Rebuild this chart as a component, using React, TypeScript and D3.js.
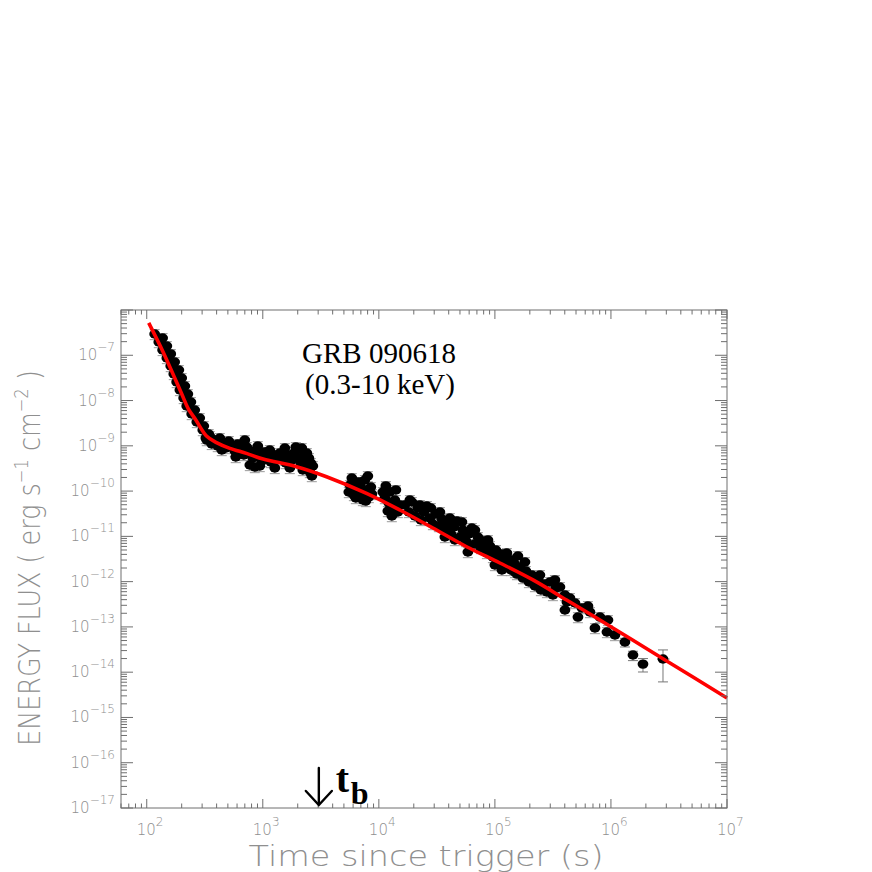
import React from "react";
import * as d3 from "d3";

// ---- data (time in s, energy flux in erg s^-1 cm^-2) ----
const steepDecay: [number, number][] = [
  [117, 2.95e-7], [137, 2.41e-7], [127, 1.96e-7], [149, 1.6e-7], [137, 1.31e-7],
  [161, 1.07e-7], [149, 8.7e-8], [174, 7.1e-8], [161, 5.79e-8], [189, 4.73e-8],
  [171, 3.86e-8], [200, 3.15e-8], [181, 2.57e-8], [213, 2.1e-8], [193, 1.71e-8],
  [226, 1.39e-8], [208, 1.14e-8], [240, 9.28e-9], [221, 7.57e-9], [259, 6.18e-9],
  [244, 5.04e-9], [286, 4.11e-9], [270, 3.36e-9], [310, 2.74e-9], [304, 2.23e-9],
  [342, 1.82e-9], [323, 1.49e-9],
];
const plateau: [number, number][] = [
  [329, 1.34e-9], [349, 1.65e-9], [363, 1.1e-9], [386, 1.34e-9], [409, 9.9e-10],
  [426, 1.49e-9], [452, 1.15e-9], [480, 8.94e-10], [509, 1.28e-9], [541, 9.9e-10],
  [574, 7.68e-10], [609, 1.1e-9], [646, 8.5e-10], [686, 6.27e-10], [728, 9.41e-10],
  [773, 7.3e-10], [820, 5.38e-10], [871, 8.08e-10], [924, 6.27e-10], [980, 4.62e-10],
  [1040, 7.3e-10], [1104, 5.66e-10], [1172, 4.39e-10], [1244, 6.27e-10], [1320, 4.86e-10],
  [1401, 6.94e-10], [1487, 5.38e-10], [1578, 4.17e-10], [1675, 6.27e-10], [1778, 4.86e-10],
  [1887, 7.3e-10], [2003, 5.38e-10], [2126, 4.17e-10], [2256, 5.95e-10], [2348, 4.62e-10],
  [2443, 3.4e-10], [2542, 2.64e-10], [2645, 2.15e-10], [2212, 2.92e-10], [2043, 8.5e-10],
  [2395, 6.94e-10], [2593, 4.17e-10], [773, 3.77e-10], [853, 3.4e-10],
  [443, 8.08e-10], [585, 5.66e-10], [942, 3.58e-10], [1269, 3.24e-10], [1709, 3.24e-10],
  [1926, 9.41e-10], [2168, 8.94e-10], [2493, 5.38e-10], [2698, 3.58e-10], [1549, 8.94e-10],
  [1148, 8.08e-10], [700, 1.34e-9], [906, 9.9e-10],
];
const secondOrbit: [number, number][] = [
  [5623, 1.36e-10], [5851, 1.94e-10], [6211, 1.06e-10], [6462, 1.59e-10], [6859, 1.3e-10],
  [6592, 8.19e-11], [7137, 9.54e-11], [7575, 1.76e-10], [8040, 2.15e-10], [7727, 1.06e-10],
  [8201, 7.4e-11], [8706, 8.62e-11], [6089, 8.19e-11], [7280, 6.35e-11],
  [5510, 9.54e-11], [6336, 7.03e-11], [6995, 1.59e-10], [8531, 1.23e-10], [7727, 6.04e-11],
];
const thirdOrbit: [number, number][] = [
  [11490, 1.3e-10], [12439, 9.54e-11], [14015, 1.06e-10], [11264, 7.03e-11], [12195, 5.45e-11],
  [13204, 4.23e-11], [11955, 3.63e-11], [14582, 3.45e-11], [13739, 6.35e-11],
  [10820, 9.54e-11], [15170, 4.93e-11], [12940, 2.81e-11],
];
const lateDecay: [number, number][] = [
  [16750, 4.93e-11], [18138, 3.45e-11], [19256, 5.74e-11], [20438, 2.81e-11], [21693, 4.23e-11],
  [23025, 2.3e-11], [24434, 3.45e-11], [25934, 4.68e-11], [27527, 2.54e-11], [28076, 4.23e-11],
  [29212, 1.87e-11], [31004, 3.12e-11], [32898, 1.69e-11], [34917, 2.42e-11], [37068, 1.38e-11],
  [39336, 1.97e-11], [41758, 1.13e-11], [44322, 1.61e-11], [47030, 2.18e-11], [49918, 9.68e-12],
  [52975, 1.38e-11], [56234, 7.89e-12], [58505, 4.51e-12], [59689, 1.13e-11], [63348, 1.53e-11],
  [67237, 6.78e-12], [71358, 9.68e-12], [75754, 5.53e-12], [80393, 7.89e-12], [85310, 4.29e-12],
  [90553, 6.12e-12], [96117, 3.5e-12], [102000, 4.99e-12], [108270, 2.85e-12], [114900, 4.07e-12],
  [114900, 1.81e-12], [121960, 2.21e-12], [129440, 3.16e-12], [137390, 1.81e-12], [145820, 2.58e-12],
  [154760, 1.47e-12], [164270, 2.1e-12], [174350, 1.2e-12], [185040, 1.72e-12], [196410, 9.81e-13],
  [208450, 1.4e-12], [221200, 8.0e-13], [234800, 1.14e-12], [249200, 6.53e-13], [264500, 8.86e-13],
  [280760, 5.9e-13], [297940, 9.81e-13], [316230, 5.06e-13], [335700, 7.23e-13], [363400, 7.61e-13],
  [117220, 3.32e-12], [126900, 4.29e-12], [140150, 3.0e-12], [157870, 3.68e-12], [148750, 1.63e-12],
  [18500, 6.35e-11], [22550, 4.93e-11], [33570, 3.45e-11], [40930, 2.54e-11], [51990, 2.07e-11],
  [67237, 1.38e-11], [87100, 8.3e-12], [60850, 6.44e-12], [45190, 8.3e-12], [37068, 9.68e-12],
  [100000, 2.33e-12], [181500, 2.71e-12], [244300, 1.4e-12], [328900, 1.09e-12],
];
const tail: [number, number][] = [
  [401200, 5.06e-13], [417500, 3.55e-13], [401200, 2.36e-13], [443200, 4.35e-13], [519400, 1.65e-13],
  [562300, 2.61e-13], [659200, 2.13e-13], [803900, 1.65e-13], [942200, 1.42e-13], [728000, 9.45e-14],
  [923500, 7.71e-14], [1083000, 6.62e-14], [489800, 3.37e-13], [633400, 2.89e-13],
];
// sparse last points with explicit error bars: [t, F, tLo, tHi, fLo, fHi]
const sparsePoints: [number, number, number, number, number, number][] = [
  [1320000, 4.64e-14, 1250000, 1400000, 3.6e-14, 5.6e-14],
  [1548000, 2.39e-14, 1450000, 1650000, 1.8e-14, 2.9e-14],
  [1888000, 1.51e-14, 1750000, 2050000, 1.01e-14, 2.0e-14],
  [2808000, 1.95e-14, 2500000, 3200000, 6.1e-15, 3.1e-14],
];
const typicalRelErr = 0.25;

// fitted model (red curve)
const modelCurve: [number, number][] = [
  [104, 5.2e-7], [138, 1.2e-7], [199, 1.45e-8], [227, 6.74e-9], [265, 3.72e-9],
  [327, 1.65e-9], [399, 1.18e-9], [520, 8.8e-10], [723, 6.8e-10], [1007, 5.1e-10],
  [1954, 3.46e-10], [3540, 2.08e-10], [7830, 8.9e-11], [15170, 3.82e-11], [29240, 1.53e-11],
  [57020, 5.9e-12], [110400, 2.58e-12], [212800, 1.09e-12], [415000, 3.93e-13],
  [803500, 1.42e-13], [1549000, 5.05e-14], [3020000, 1.77e-14], [10000000, 2.7e-15],
];

const xDecades = [2, 3, 4, 5, 6, 7];
const yDecades = [-17, -16, -15, -14, -13, -12, -11, -10, -9, -8, -7];
const breakTime = 3040;
const titleLines = ["GRB 090618", "(0.3-10 keV)"];

const GRAY = "#8f8f8f";
const FONT = "'DejaVu Sans', sans-serif";

export default function App() {
  const L = 121, R = 727, T = 310, B = 808;
  const x = d3.scaleLog().domain([60, 1e7]).range([L, R]);
  const y = d3.scaleLog().domain([1e-17, 1e-6]).range([B, T]);

  const allPts = [...steepDecay, ...plateau, ...secondOrbit, ...thirdOrbit, ...lateDecay, ...tail];

  const line = d3
    .line<[number, number]>()
    .x((d) => x(d[0]))
    .y((d) => y(d[1]))
    .curve(d3.curveCatmullRom.alpha(0.5));

  const xTicks: { v: number; major: boolean }[] = [];
  for (let d = 1; d <= 7; d++) {
    for (let k = 1; k <= 9; k++) {
      const v = k * Math.pow(10, d);
      if (v >= 60 && v <= 1e7) xTicks.push({ v, major: k === 1 });
    }
  }
  const yTicks: { v: number; major: boolean }[] = [];
  for (let d = -17; d <= -6; d++) {
    for (let k = 1; k <= 9; k++) {
      const v = k * Math.pow(10, d);
      if (v >= 1e-17 * 0.999 && v <= 1e-6 * 1.001) yTicks.push({ v, major: k === 1 });
    }
  }

  const xb = x(breakTime);

  return (
    <svg width={872} height={872} style={{ position: "absolute", left: 0, top: 0, background: "#fff" }}>
      <rect x={0} y={0} width={872} height={872} fill="#fff" />
      {/* error bars */}
      <g stroke="#9a9a9a" strokeWidth={1}>
        {allPts.map((p, i) => {
          const cx = x(p[0]);
          const lo = y(p[1] * (1 - typicalRelErr));
          const hi = y(p[1] * (1 + typicalRelErr));
          return (
            <g key={"e" + i}>
              <line x1={cx} x2={cx} y1={lo} y2={hi} />
              <line x1={cx - 5} x2={cx + 5} y1={lo} y2={lo} />
              <line x1={cx - 5} x2={cx + 5} y1={hi} y2={hi} />
            </g>
          );
        })}
        {sparsePoints.map((p, i) => {
          const cx = x(p[0]);
          const cy = y(p[1]);
          return (
            <g key={"s" + i} stroke="#777">
              <line x1={cx} x2={cx} y1={y(p[4])} y2={y(p[5])} />
              <line x1={cx - 5} x2={cx + 5} y1={y(p[4])} y2={y(p[4])} />
              <line x1={cx - 5} x2={cx + 5} y1={y(p[5])} y2={y(p[5])} />
              <line x1={x(p[2])} x2={x(p[3])} y1={cy} y2={cy} />
            </g>
          );
        })}
      </g>
      {/* dots */}
      <g fill="#000">
        {allPts.map((p, i) => (
          <ellipse key={"d" + i} cx={x(p[0])} cy={y(p[1])} rx={5.4} ry={4.7} />
        ))}
        {sparsePoints.map((p, i) => (
          <ellipse key={"sd" + i} cx={x(p[0])} cy={y(p[1])} rx={5.4} ry={4.7} />
        ))}
      </g>
      {/* model */}
      <path d={line(modelCurve) || ""} fill="none" stroke="#ff0000" strokeWidth={3.6} strokeLinejoin="round" />

      {/* frame */}
      <rect x={L} y={T} width={R - L} height={B - T} fill="none" stroke="#6e6e6e" strokeWidth={1} />
      <g stroke="#6e6e6e" strokeWidth={1}>
        {xTicks.map((t, i) => {
          const px = x(t.v);
          const len = t.major ? 9 : 4.5;
          return (
            <g key={"xt" + i}>
              <line x1={px} x2={px} y1={B} y2={B - len} />
              <line x1={px} x2={px} y1={T} y2={T + len} />
            </g>
          );
        })}
        {yTicks.map((t, i) => {
          const py = y(t.v);
          const len = t.major ? 12 : 6;
          return (
            <g key={"yt" + i}>
              <line x1={L} x2={L + len} y1={py} y2={py} />
              <line x1={R} x2={R - len} y1={py} y2={py} />
            </g>
          );
        })}
      </g>

      {/* tick labels */}
      <g fill={GRAY} fontFamily={FONT} fontWeight={200}>
        {yDecades.map((e) => (
          <text key={"yl" + e} x={115} y={y(Math.pow(10, e)) + 5} textAnchor="end" fontSize={15}>
            10
            <tspan dy={-9} fontSize={12}>{"\u2212" + Math.abs(e)}</tspan>
          </text>
        ))}
        {xDecades.map((e) => (
          <text key={"xl" + e} x={x(Math.pow(10, e)) - 10} y={835} fontSize={15}>
            10
            <tspan dy={-9} fontSize={12}>{String(e)}</tspan>
          </text>
        ))}
      </g>

      {/* axis titles */}
      <text x={426} y={866} textAnchor="middle" fontSize={28} fill={GRAY} fontFamily={FONT} fontWeight={200}
        textLength={355} lengthAdjust="spacingAndGlyphs">
        Time since trigger (s)
      </text>
      <g transform="translate(40,558) rotate(-90) scale(0.82,1)">
        <text x={0} y={0} textAnchor="middle" fontSize={31} fill={GRAY} fontFamily={FONT} fontWeight={200}>
          ENERGY FLUX ( erg s
          <tspan dy={-12} fontSize={20}>{"\u22121"}</tspan>
          <tspan dy={12}> cm</tspan>
          <tspan dy={-12} fontSize={20}>{"\u22122"}</tspan>
          <tspan dy={12}> )</tspan>
        </text>
      </g>

      {/* title */}
      <g fontFamily="'Liberation Serif', 'Times New Roman', serif" fill="#000" textAnchor="middle" fontSize={29}>
        <text x={379} y={363}>{titleLines[0]}</text>
        <text x={380} y={394}>{titleLines[1]}</text>
      </g>

      {/* break time marker */}
      <g stroke="#000" strokeWidth={2.4} fill="none" strokeLinecap="round">
        <line x1={xb} x2={xb} y1={768} y2={804} />
        <polyline points={`${xb - 13},${791} ${xb},${805} ${xb + 13},${791}`} />
      </g>
      <text x={xb + 17} y={792} fontFamily="'Liberation Serif', serif" fontWeight="bold" fontSize={40} fill="#000">t</text>
      <text x={xb + 32} y={804} fontFamily="'Liberation Serif', serif" fontWeight="bold" fontSize={32} fill="#000">b</text>
    </svg>
  );
}
